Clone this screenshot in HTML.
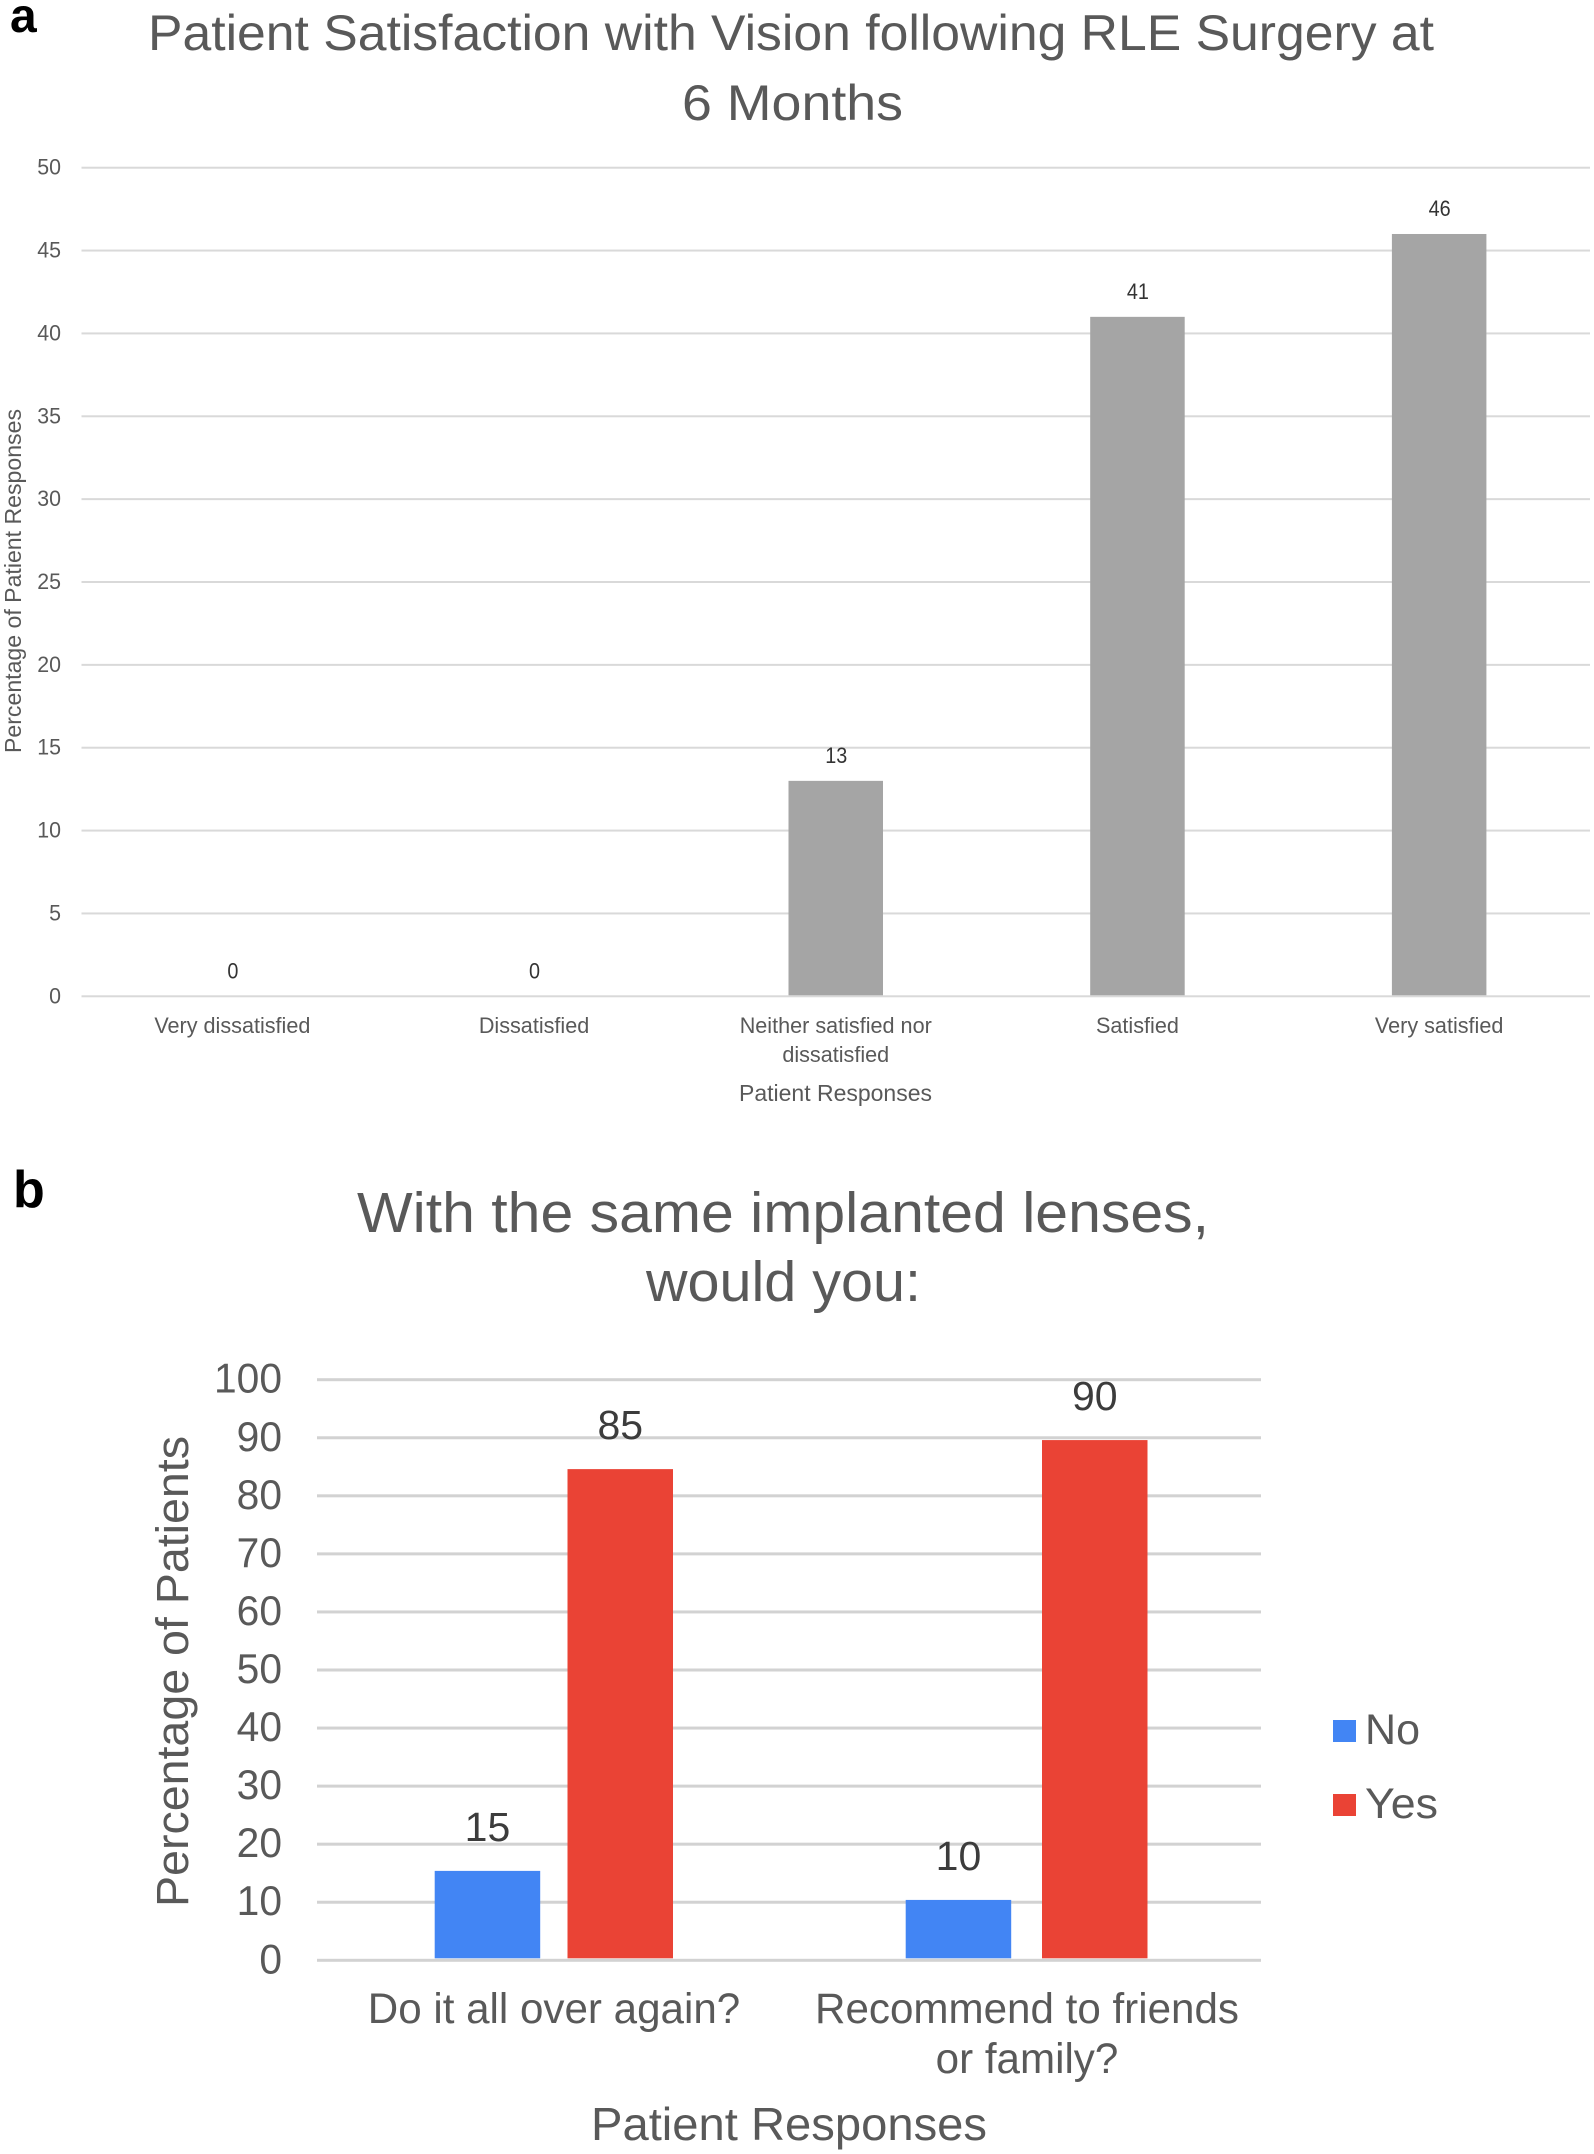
<!DOCTYPE html>
<html lang="en">
<head>
<meta charset="utf-8">
<title>Patient satisfaction charts</title>
<style>
html,body{margin:0;padding:0;background:#fff}
svg{display:block}
text{font-family:"Liberation Sans",Arial,sans-serif}
</style>
</head>
<body>
<svg id="figure" xmlns="http://www.w3.org/2000/svg" width="1594" height="2154" viewBox="0 0 1594 2154">
  <rect width="1594" height="2154" fill="#fff"/>
  <text x="10" y="32" font-size="48" font-weight="700" fill="#000">a</text>
  <text x="13" y="1207" font-size="52" font-weight="700" fill="#000">b</text>

  <g id="chart-a">
    <text x="148" y="50" font-size="50" fill="#595959" textLength="1286" lengthAdjust="spacingAndGlyphs">Patient Satisfaction with Vision following RLE Surgery at</text>
    <text x="682" y="120" font-size="50" fill="#595959" textLength="221" lengthAdjust="spacingAndGlyphs">6 Months</text>
    <text transform="translate(21 753) rotate(-90)" font-size="23" fill="#595959" textLength="344" lengthAdjust="spacingAndGlyphs">Percentage of Patient Responses</text>
    <text x="739" y="1101" font-size="23" fill="#595959" textLength="193" lengthAdjust="spacingAndGlyphs">Patient Responses</text>
  </g>

  <g id="chart-b">
    <text x="357" y="1232" font-size="57" fill="#595959" textLength="852" lengthAdjust="spacingAndGlyphs">With the same implanted lenses,</text>
    <text x="646" y="1301" font-size="57" fill="#595959" textLength="275" lengthAdjust="spacingAndGlyphs">would you:</text>
    <text transform="translate(188 1907) rotate(-90)" font-size="45" fill="#595959" textLength="471" lengthAdjust="spacingAndGlyphs">Percentage of Patients</text>
    <text x="591" y="2140" font-size="46" fill="#595959" textLength="396" lengthAdjust="spacingAndGlyphs">Patient Responses</text>
    <g>
      <rect x="1333" y="1720" width="23" height="22" fill="#4285f4"/>
      <text x="1365" y="1744" font-size="43" fill="#595959" textLength="55" lengthAdjust="spacingAndGlyphs">No</text>
      <rect x="1333" y="1794" width="23" height="22" fill="#ea4335"/>
      <text x="1365" y="1818" font-size="43" fill="#595959" textLength="73" lengthAdjust="spacingAndGlyphs">Yes</text>
    </g>
  </g>
</svg>
<script>
// Chart A data
var aCategories = ["Very dissatisfied", "Dissatisfied", "Neither satisfied nor\ndissatisfied", "Satisfied", "Very satisfied"];
var aValues = [0, 0, 13, 41, 46];
var aTicks = [0, 5, 10, 15, 20, 25, 30, 35, 40, 45, 50];

// Chart B data
var bCategories = ["Do it all over again?", "Recommend to friends\nor family?"];
var bNoValues = [15.4, 10.4];
var bYesValues = [84.6, 89.6];
var bTicks = [0, 10, 20, 30, 40, 50, 60, 70, 80, 90, 100];

var NS = "http://www.w3.org/2000/svg";

function makeText(parent, x, y, str, size, fill, anchor, squeeze) {
  var t = document.createElementNS(NS, "text");
  t.setAttribute("x", x);
  t.setAttribute("y", y);
  t.setAttribute("font-size", size);
  t.setAttribute("fill", fill);
  t.setAttribute("text-anchor", anchor);
  t.textContent = str;
  parent.appendChild(t);
  if (squeeze) {
    t.setAttribute("textLength", t.getComputedTextLength() * squeeze);
    t.setAttribute("lengthAdjust", "spacingAndGlyphs");
  }
  return t;
}
function makeRect(parent, x, y, w, h, fill) {
  var r = document.createElementNS(NS, "rect");
  r.setAttribute("x", x);
  r.setAttribute("y", y);
  r.setAttribute("width", w);
  r.setAttribute("height", h);
  r.setAttribute("fill", fill);
  parent.appendChild(r);
  return r;
}

// ---- Chart A ----
(function () {
  var g = document.getElementById("chart-a");
  var left = 81.5, right = 1590, top50 = 167.7, base = 996.3, maxV = 50;
  var band = (right - left) / aCategories.length;
  var barW = 94.5;
  function y(v) { return base - (v / maxV) * (base - top50); }
  function xc(i) { return left + band * (i + 0.5); }

  aTicks.forEach(function (v) {
    var line = makeRect(g, left, y(v) - 1, right - left, 2, "#d9d9d9");
    
    
    var lab = makeText(g, 61, y(v) + 7, String(v), 22, "#595959", "end", 0.97);
    
    
  });

  aValues.forEach(function (v, i) {
    if (v > 0) {
      var bar = makeRect(g, xc(i) - barW / 2, y(v), barW, base - y(v) - 1, "#a5a5a5");
      
      
    }
    var val = makeText(g, xc(i) + 0.5, y(v) - 18, String(v), 22, "#333333", "middle", 0.9);
    
    
  });

  aCategories.forEach(function (c, i) {
    c.split("\n").forEach(function (ln, k) {
      var t = makeText(g, xc(i), 1033 + k * 29, ln, 22.5, "#595959", "middle", 0.96);
      
      
    });
  });
})();

// ---- Chart B ----
(function () {
  var g = document.getElementById("chart-b");
  var left = 317, right = 1261, top100 = 1379.7, base = 1960.3, maxV = 100;
  var barW = 105.5;
  function y(v) { return base - (v / maxV) * (base - top100); }
  function xc(i) { return 554 + i * 473; }
  function noX(i) { return 434.7 + i * 471; }
  function yesX(i) { return 567.5 + i * 474.5; }

  bTicks.forEach(function (v) {
    var line = makeRect(g, left, y(v) - 1.5, right - left, 3, "#d2d2d2");
    
    
    var lab = makeText(g, 282, y(v) + 13, String(v), 42, "#595959", "end", 0.97);
    
    
  });

  function drawSeries(values, xFn, color, name) {
    values.forEach(function (v, i) {
      var x0 = xFn(i);
      var bar = makeRect(g, x0, y(v), barW, base - 2 - y(v), color);
      
      
      var val = makeText(g, x0 + barW / 2, y(v) - 30, String(Math.round(v)), 41, "#3c3c3c", "middle", 1);
      
      
    });
  }
  drawSeries(bNoValues, noX, "#4285f4", "no");
  drawSeries(bYesValues, yesX, "#ea4335", "yes");

  bCategories.forEach(function (c, i) {
    c.split("\n").forEach(function (ln, k) {
      var t = makeText(g, xc(i), 2023 + k * 50, ln, 43, "#595959", "middle", 0.98);
      
      
    });
  });
})();
</script>
</body>
</html>
